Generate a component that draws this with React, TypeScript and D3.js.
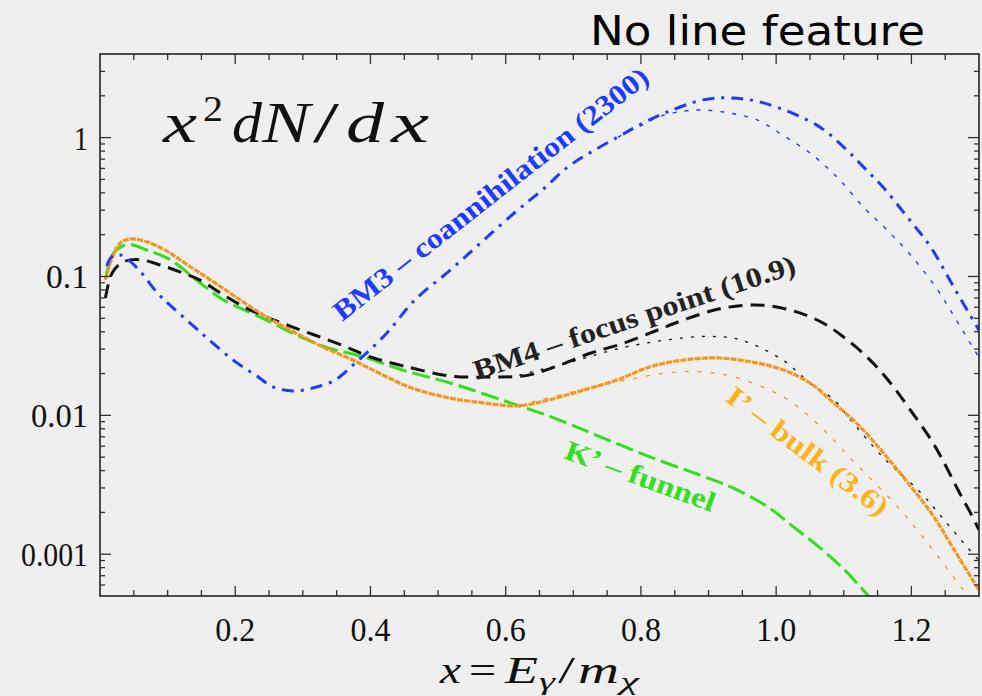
import React from 'react';
import * as d3 from 'd3';

// x = E_gamma / m_chi
const bm3X = [0.01, 0.018, 0.03, 0.055, 0.086, 0.107, 0.153, 0.197, 0.232, 0.256, 0.286, 0.316, 0.348, 0.374, 0.396, 0.426, 0.466, 0.518, 0.565, 0.614, 0.654, 0.692, 0.725, 0.766, 0.8, 0.839, 0.892, 0.932, 0.981, 1.06, 1.1, 1.129, 1.158, 1.194, 1.228, 1.265, 1.3];
const bm3Y = [0.119, 0.14, 0.143, 0.115, 0.075, 0.06, 0.038, 0.025, 0.0192, 0.016, 0.015, 0.0158, 0.018, 0.023, 0.0286, 0.04, 0.068, 0.111, 0.178, 0.29, 0.42, 0.615, 0.78, 1.01, 1.25, 1.53, 1.87, 1.93, 1.78, 1.23, 0.855, 0.615, 0.44, 0.268, 0.164, 0.08, 0.041];
const bm3DotX = [0.766, 0.8, 0.828, 0.862, 0.892, 0.932, 0.972, 1.01, 1.05, 1.09, 1.129, 1.164, 1.195, 1.235, 1.265, 1.3];
const bm3DotY = [1.01, 1.22, 1.42, 1.55, 1.58, 1.5, 1.34, 1.04, 0.775, 0.52, 0.316, 0.216, 0.15, 0.085, 0.05, 0.026];

const bm4X = [0.008, 0.018, 0.034, 0.059, 0.089, 0.118, 0.148, 0.182, 0.217, 0.251, 0.286, 0.325, 0.365, 0.4, 0.45, 0.518, 0.581, 0.632, 0.68, 0.725, 0.774, 0.824, 0.863, 0.922, 0.98, 1.03, 1.07, 1.105, 1.139, 1.169, 1.198, 1.228, 1.247, 1.269, 1.287, 1.3];
const bm4Y = [0.07, 0.106, 0.127, 0.132, 0.121, 0.108, 0.094, 0.074, 0.059, 0.05, 0.043, 0.0367, 0.031, 0.0263, 0.0226, 0.0192, 0.0189, 0.0194, 0.023, 0.028, 0.033, 0.041, 0.0486, 0.0593, 0.062, 0.0556, 0.046, 0.035, 0.025, 0.0171, 0.011, 0.0068, 0.0047, 0.0029, 0.002, 0.0015];
const bm4DotX = [0.62, 0.7, 0.77, 0.84, 0.9, 0.947, 1.01, 1.05, 1.085, 1.11, 1.158, 1.213, 1.247, 1.282, 1.3];
const bm4DotY = [0.0195, 0.0245, 0.0305, 0.035, 0.037, 0.035, 0.025, 0.0171, 0.013, 0.0093, 0.005, 0.0028, 0.0018, 0.00113, 0.0009];

const iX = [0.008, 0.018, 0.03, 0.044, 0.069, 0.099, 0.133, 0.167, 0.203, 0.241, 0.286, 0.33, 0.374, 0.414, 0.46, 0.518, 0.567, 0.617, 0.666, 0.715, 0.765, 0.814, 0.863, 0.913, 0.962, 1.01, 1.05, 1.085, 1.124, 1.158, 1.19, 1.232, 1.262, 1.3];
const iY = [0.095, 0.136, 0.174, 0.186, 0.178, 0.152, 0.118, 0.092, 0.07, 0.053, 0.04, 0.031, 0.025, 0.02, 0.0158, 0.0133, 0.0123, 0.0117, 0.013, 0.0152, 0.018, 0.0224, 0.025, 0.0259, 0.0243, 0.0213, 0.0171, 0.0123, 0.0083, 0.0054, 0.0035, 0.0019, 0.0011, 0.00055];
const iDotX = [0.62, 0.7, 0.78, 0.838, 0.888, 0.936, 1.01, 1.06, 1.112, 1.183, 1.232, 1.277, 1.3];
const iDotY = [0.0118, 0.0148, 0.018, 0.0202, 0.0206, 0.019, 0.0136, 0.0088, 0.0048, 0.0021, 0.00107, 0.00055, 0.0004];

const kX = [0.008, 0.02, 0.041, 0.069, 0.104, 0.143, 0.182, 0.222, 0.256, 0.29, 0.334, 0.39, 0.45, 0.518, 0.592, 0.666, 0.74, 0.814, 0.888, 0.936, 0.987, 1.025, 1.065, 1.099, 1.129, 1.15];
const kY = [0.095, 0.147, 0.17, 0.155, 0.132, 0.094, 0.068, 0.055, 0.046, 0.038, 0.031, 0.0263, 0.021, 0.0171, 0.013, 0.0098, 0.007, 0.005, 0.0037, 0.003, 0.0022, 0.00158, 0.00111, 0.00079, 0.00055, 0.00042];

const xTickLabels = ['0.2', '0.4', '0.6', '0.8', '1.0', '1.2'];
const yTickLabels = ['0.001', '0.01', '0.1', '1'];

const BLUE = '#1d3cff';
const GREEN = '#2fe01a';
const ORANGE = '#f5961e';
const SERIF = '"Liberation Serif", "Times New Roman", serif';

// one glyph of a formula: left edge, width, italic or not
function Glyph({ x, y, w, t, it = true, size }: { x: number; y: number; w: number; t: string; it?: boolean; size?: number }) {
  return (
    <text x={x} y={y} fontStyle={it ? 'italic' : 'normal'} fontSize={size}
      textLength={w} lengthAdjust="spacingAndGlyphs">{t}</text>
  );
}

export default function App() {
  const left = 100, right = 979, top = 54, bottom = 596;
  const x = d3.scaleLinear().domain([0, 1.3]).range([left, right]);
  const y = d3.scaleLog().domain([5e-4, 4]).range([bottom, top]);

  const line = d3.line<[number, number]>()
    .x(d => x(d[0]))
    .y(d => y(d[1]))
    .curve(d3.curveCatmullRom.alpha(0.5));
  const path = (xs: number[], ys: number[]) => line(d3.zip(xs, ys) as [number, number][]) || '';

  const xMinor = d3.range(1, 26).map(i => i * 0.05);
  const xMajor = xTickLabels.map(Number);
  const yAll = y.ticks().filter(v => v > 5e-4 && v < 4);
  const yMajor = yTickLabels.map(Number);
  const isMajorY = (v: number) => Math.abs(Math.log10(v) - Math.round(Math.log10(v))) < 1e-6;

  return (
    <svg width={982} height={696} style={{ position: 'fixed', left: 0, top: 0 }}>
      <defs>
        <clipPath id="plot">
          <rect x={left} y={top} width={right - left} height={bottom - top} />
        </clipPath>
      </defs>
      <rect width={982} height={696} fill="#efefef" />

      {/* title */}
      <text x={590} y={45} fontFamily='"DejaVu Sans", sans-serif' fontSize={40}
        textLength={335} lengthAdjust="spacingAndGlyphs" fill="#000">No line feature</text>

      {/* curves */}
      <g clipPath="url(#plot)" fill="none" strokeLinecap="butt">
        <path d={path(bm3DotX, bm3DotY)} stroke={BLUE} strokeWidth={1.4} strokeDasharray="4 8" />
        <path d={path(bm4DotX, bm4DotY)} stroke="#111" strokeWidth={1.3} strokeDasharray="3 8" />
        <path d={path(iDotX, iDotY)} stroke={ORANGE} strokeWidth={1.3} strokeDasharray="4 9" />
        <path d={path(kX, kY)} stroke={GREEN} strokeWidth={3} strokeDasharray="18 6" />
        <path d={path(bm4X, bm4Y)} stroke="#111" strokeWidth={3} strokeDasharray="14 8" />
        <path d={path(iX, iY)} stroke={ORANGE} strokeWidth={3.2} strokeDasharray="6 1.2" />
        <path d={path(bm3X, bm3Y)} stroke={BLUE} strokeWidth={3} strokeDasharray="12 7 3 7" />
      </g>

      {/* frame */}
      <rect x={left} y={top} width={right - left} height={bottom - top} fill="none" stroke="#222" strokeWidth={1.6} />

      {/* ticks */}
      <g stroke="#333" strokeWidth={1.3}>
        {xMinor.map(v => {
          const len = xMajor.some(m => Math.abs(m - v) < 1e-6) ? 10 : 6;
          return (
            <g key={v}>
              <line x1={x(v)} x2={x(v)} y1={bottom} y2={bottom - len} />
              <line x1={x(v)} x2={x(v)} y1={top} y2={top + len} />
            </g>
          );
        })}
        {yAll.map(v => {
          const len = isMajorY(v) ? 11 : 5;
          return (
            <g key={v}>
              <line x1={left} x2={left + len} y1={y(v)} y2={y(v)} />
              <line x1={right} x2={right - len} y1={y(v)} y2={y(v)} />
            </g>
          );
        })}
      </g>

      {/* tick labels */}
      <g fontFamily={SERIF} fontSize={34} fill="#111">
        {xMajor.map((v, i) => (
          <text key={v} x={x(v)} y={641} textAnchor="middle"
            textLength={40} lengthAdjust="spacingAndGlyphs">{xTickLabels[i]}</text>
        ))}
        {yMajor.map((v, i) => (
          <text key={v} x={88} y={y(v)} dy="0.35em" textAnchor="end"
            textLength={[67, 57, 42, 14][i]} lengthAdjust="spacingAndGlyphs">{yTickLabels[i]}</text>
        ))}
      </g>

      {/* y quantity x^2 dN/dx */}
      <g fontFamily={SERIF} fontSize={56} fill="#111">
        <Glyph x={163} y={142} w={34} t="x" />
        <Glyph x={203} y={121} w={20} t="2" it={false} size={36} />
        <Glyph x={232} y={142} w={30} t="d" />
        <Glyph x={262} y={142} w={48} t="N" />
        <Glyph x={313} y={142} w={26} t="/" it={false} />
        <Glyph x={346} y={142} w={38} t="d" />
        <Glyph x={391} y={142} w={38} t="x" />
      </g>

      {/* x axis title x = E_gamma / m_chi */}
      <g fontFamily={SERIF} fontSize={38} fill="#111">
        <Glyph x={440} y={683} w={21} t="x" />
        <Glyph x={469} y={683} w={27} t="=" it={false} />
        <Glyph x={505} y={683} w={33} t="E" />
        <Glyph x={539} y={690} w={16} t="γ" size={26} />
        <Glyph x={558} y={683} w={17} t="/" it={false} />
        <Glyph x={578} y={683} w={41} t="m" />
        <Glyph x={620} y={690} w={19} t="χ" size={26} />
      </g>

      {/* curve labels */}
      <g fontFamily={SERIF} fontWeight="bold" fontSize={28}>
        <text transform="translate(342,322) rotate(-38)" fill={BLUE}
          textLength={392} lengthAdjust="spacingAndGlyphs">BM3 – coannihilation (2300)</text>
        <text transform="translate(477,380) rotate(-18.5)" fill="#222"
          textLength={338} lengthAdjust="spacingAndGlyphs">BM4 – focus point (10.9)</text>
        <text transform="translate(724,400) rotate(37)" fill="#ffb31a"
          textLength={195} lengthAdjust="spacingAndGlyphs">I’ – bulk (3.6)</text>
        <text transform="translate(563,458) rotate(20)" fill={GREEN}
          textLength={158} lengthAdjust="spacingAndGlyphs">K’ – funnel</text>
      </g>
    </svg>
  );
}
